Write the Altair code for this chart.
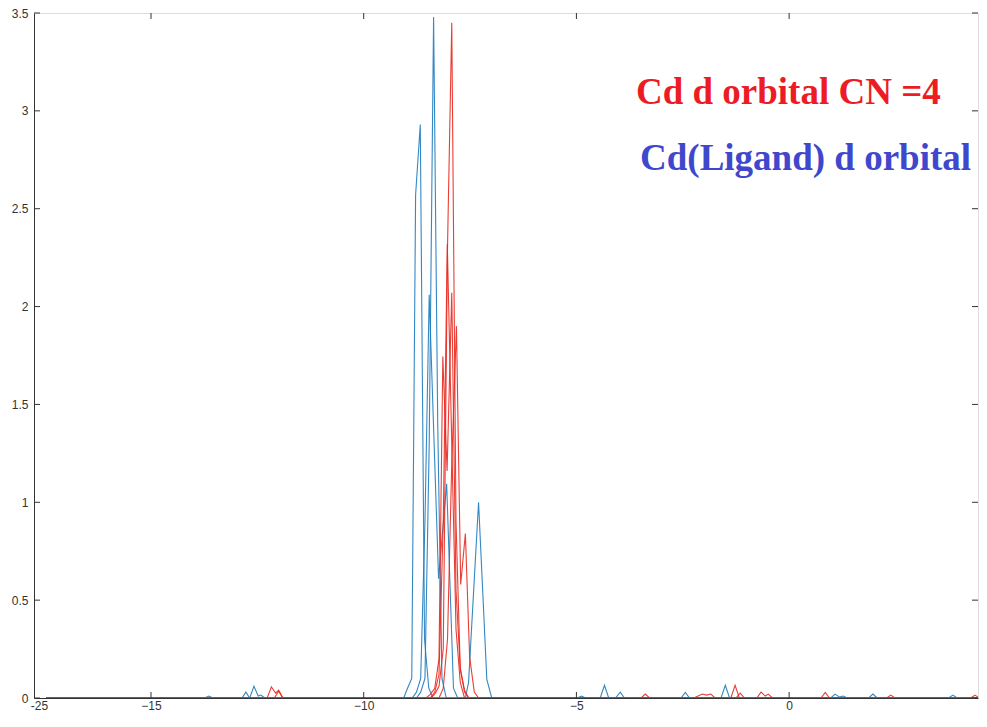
import altair as alt
import pandas as pd

# ---------------- data (energies in eV, PDOS values) ----------------
B1_E = [-17.46, -12.86, -12.77, -12.68, -8.76, -8.66, -8.56, -8.46, -8.357, -8.26, -8.16, -8.06, -4.44, -4.34, -4.24, 4.55]
B1_V = [0, 0, 0.03, 0, 0, 0.03, 0.1, 1.3, 3.48, 1.4, 0.1, 0, 0, 0.065, 0, 0]

B2_E = [-17.46, -13.74, -13.64, -13.54, -9.06, -8.97, -8.87, -8.78, -8.67, -8.57, -8.47, -8.37, -1.60, -1.50, -1.40, 4.55]
B2_V = [0, 0, 0.01, 0, 0, 0.05, 0.1, 2.57, 2.93, 0.3, 0.05, 0, 0, 0.065, 0, 0]

B3_E = [-17.46, -12.68, -12.58, -12.48, -12.42, -12.32, -8.86, -8.76, -8.66, -8.56, -8.46, -8.24, -8.05, -7.89, -7.79,
        -4.08, -3.97, -3.87, -2.54, -2.44, -2.34, 4.55]
B3_V = [0, 0, 0.06, 0.01, 0.015, 0, 0, 0.03, 0.1, 0.9, 2.06, 0.61, 1.095, 0.05, 0,
        0, 0.03, 0, 0, 0.028, 0, 0]

B4_E = [-17.46, -7.71, -7.61, -7.535, -7.30, -7.106, -6.99, -4.98, -4.88, -4.78, 0.98, 1.08, 1.18, 1.27, 1.37,
        1.87, 1.97, 2.07, 3.75, 3.85, 3.95, 4.55]
B4_V = [0, 0, 0.0, 0.08, 1.0, 0.095, 0, 0, 0.01, 0, 0, 0.02, 0.005, 0.01, 0,
        0, 0.02, 0, 0, 0.015, 0, 0]

R1_E = [-17.46, -12.27, -12.17, -12.07, -12.0, -11.9, -8.43, -8.33, -8.23, -8.13, -8.03, -7.93, -7.83, -7.73, -7.63, -7.53,
        -1.37, -1.27, -1.17, 4.55]
R1_V = [0, 0, 0.057, 0.025, 0.04, 0, 0, 0.02, 0.06, 0.25, 2.3, 3.45, 0.9, 0.15, 0.03, 0,
        0, 0.065, 0, 0]

R2_E = [-17.46, -12.1, -12.0, -11.9, -8.53, -8.43, -8.33, -8.23, -8.14, -8.04, -7.93, -7.83, -7.73, -7.63, -7.53,
        -3.48, -3.38, -3.28, -0.76, -0.66, -0.56, -0.49, -0.39, 4.55]
R2_V = [0, 0, 0.035, 0, 0, 0.02, 0.05, 0.2, 1.745, 1.16, 2.07, 0.55, 0.15, 0.04, 0,
        0, 0.02, 0, 0, 0.03, 0.01, 0.02, 0, 0]

R3_E = [-17.46, -8.43, -8.33, -8.23, -8.13, -8.035, -7.93, -7.83, -7.73, -7.63, -2.24, -2.14, -2.04, -1.94, -1.84, -1.74,
        -1.25, -1.15, -1.05, 0.75, 0.85, 0.95, 4.27, 4.37, 4.47, 4.55]
R3_V = [0, 0, 0.03, 0.12, 0.9, 2.32, 1.3, 0.35, 0.08, 0, 0, 0.01, 0.02, 0.015, 0.02, 0,
        0, 0.025, 0, 0, 0.028, 0, 0, 0.015, 0, 0]

R4_E = [-17.46, -8.23, -8.13, -8.03, -7.93, -7.82, -7.72, -7.61, -7.51, -7.40, -7.30, 2.29, 2.39, 2.49, 4.55]
R4_V = [0, 0, 0.05, 0.3, 1.2, 1.9, 0.58, 0.84, 0.21, 0.03, 0, 0, 0.015, 0, 0]

SERIES = [
    ("B1", "blue", B1_E, B1_V), ("B2", "blue", B2_E, B2_V),
    ("B3", "blue", B3_E, B3_V), ("B4", "blue", B4_E, B4_V),
    ("R1", "red", R1_E, R1_V), ("R2", "red", R2_E, R2_V),
    ("R3", "red", R3_E, R3_V), ("R4", "red", R4_E, R4_V),
]

X_TICKS = [-15, -10, -5, 0]
X_LABEL_VALUES = [-17.75, -15, -10, -5, 0]
Y_TICKS = [0, 0.5, 1, 1.5, 2, 2.5, 3, 3.5]

LABEL_TEXT = ["Cd d orbital CN =4", "Cd(Ligand) d orbital"]
LABEL_E = [-3.60, -3.505]
LABEL_V = [3.035, 2.698]
LABEL_COLOR = ["#ED1C24", "#3F48CC"]

# ---------------- build ----------------
rows = []
for name, grp, es, vs in SERIES:
    for i, (e, v) in enumerate(zip(es, vs)):
        rows.append({"E": e, "v": v, "series": name, "grp": grp, "i": i})
df = pd.DataFrame(rows)

W, H = 944, 685
xs = alt.Scale(domain=[-17.75, 4.44], nice=False, zero=False)
ys = alt.Scale(domain=[0, 3.5], nice=False, zero=False)
font = "Liberation Sans"
x_axis = alt.Axis(values=X_LABEL_VALUES, ticks=False, grid=False, domain=True, domainColor="#333",
                  labelFlush=False, labelPadding=2, labelFont=font, labelFontSize=12, labelColor="#333",
                  labelExpr="datum.value < -17 ? '-25' : datum.label", zindex=1, labelOverlap=False,
                  labelOffset={"condition": {"test": "datum.value < -17", "value": 5}, "value": 0})
y_axis = alt.Axis(values=Y_TICKS, ticks=False, grid=False, domain=True, domainColor="#333", format="~g",
                  labelFlush=False, labelPadding=6, labelFont=font, labelFontSize=12, labelColor="#333",
                  zindex=1, labelOverlap=False)

X = lambda: alt.X("E:Q", scale=xs, axis=x_axis, title=None)
Y = lambda: alt.Y("v:Q", scale=ys, axis=y_axis, title=None)

lines = alt.Chart(df).mark_line(strokeWidth=1.1, opacity=0.9, clip=True).encode(
    x=X(), y=Y(),
    color=alt.Color("grp:N", scale=alt.Scale(domain=["blue", "red"], range=["#1f7bbd", "#e8291f"]), legend=None),
    detail="series:N",
    order="i:Q",
)

xt = pd.DataFrame({"E": X_TICKS})
yt = pd.DataFrame({"v": Y_TICKS})
tick_color = "#333"
top_ticks = alt.Chart(xt).mark_rule(color=tick_color).encode(x=X(), y=alt.value(0), y2=alt.value(6))
bot_ticks = alt.Chart(xt).mark_rule(color=tick_color).encode(x=X(), y=alt.value(H), y2=alt.value(H - 6))
left_ticks = alt.Chart(yt).mark_rule(color=tick_color).encode(y=Y(), x=alt.value(0), x2=alt.value(6))
right_ticks = alt.Chart(yt).mark_rule(color=tick_color).encode(y=Y(), x=alt.value(W), x2=alt.value(W - 6))

labels_df = pd.DataFrame({"E": LABEL_E, "v": LABEL_V, "t": LABEL_TEXT, "c": LABEL_COLOR})
labels = alt.Chart(labels_df).mark_text(
    font="Liberation Serif", fontWeight="bold", fontSize=37, align="left", baseline="alphabetic"
).encode(x=X(), y=Y(), text="t:N", color=alt.Color("c:N", scale=None))

chart = alt.layer(lines, top_ticks, bot_ticks, left_ticks, right_ticks, labels).properties(
    width=W, height=H,
    autosize=alt.AutoSizeParams(type="none"),
    padding={"left": 26, "top": 5, "right": 1, "bottom": 16},
).configure_view(stroke="#333", strokeWidth=1).configure(background="white")

chart.save("out.html", embed_options={"renderer": "svg", "actions": False})
